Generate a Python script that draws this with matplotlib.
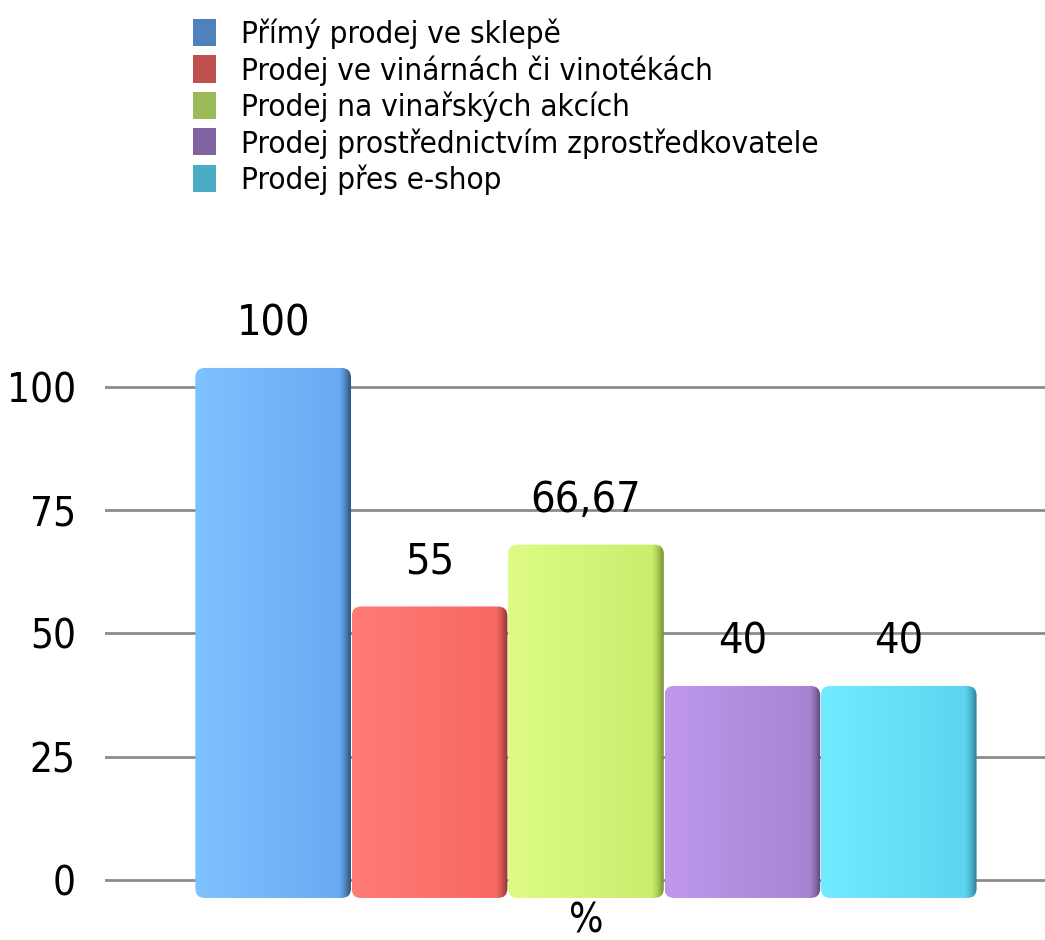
import matplotlib.pyplot as plt
import numpy as np
from matplotlib.patches import Patch, FancyBboxPatch
from matplotlib.colors import to_rgb

plt.rcParams['font.family'] = ['DejaVu Sans']
plt.rcParams['font.stretch'] = 'condensed'

kategorie = [
    'Přímý prodej ve sklepě',
    'Prodej ve vinárnách či vinotékách',
    'Prodej na vinařských akcích',
    'Prodej prostřednictvím zprostředkovatele',
    'Prodej přes e-shop',
]
hodnoty = [100, 55, 66.67, 40, 40]
popisky = ['100', '55', '66,67', '40', '40']
osa_y = [0, 25, 50, 75, 100]

# barvy v legendě a barvy sloupců (světlá levá strana, střed, tmavá hrana)
barvy_legendy = ['#4f81bd', '#c0504d', '#9bbb59', '#8064a2', '#4bacc6']
barvy_sloupcu = [
    ('#7ec2ff', '#68abf4', '#2f5178'),
    ('#ff7b75', '#f86965', '#8c3431'),
    ('#defc84', '#cbee6e', '#72902f'),
    ('#bf98ec', '#a885d3', '#5b4677'),
    ('#72ebff', '#5dd5ef', '#2b7f93'),
]

fig = plt.figure(figsize=(10.45, 9.4), dpi=100)
pozice = [0.1005, 0.0426, 0.8995, 0.6383]

# zadní osa s mřížkou a popisky osy y
ax_m = fig.add_axes(pozice)
ax_m.set_ylim(-4.06, 117.6)
ax_m.set_xlim(0, 1)
ax_m.set_yticks(osa_y)
ax_m.set_yticklabels([str(v) for v in osa_y])
ax_m.tick_params(axis='y', length=0, pad=21, labelsize=29)
ax_m.set_xticks([])
ax_m.grid(axis='y', color='#8c8c8c', linewidth=2)
for s in ax_m.spines.values():
    s.set_visible(False)

# přední osa se sloupci
ax = fig.add_axes(pozice)
ax.patch.set_visible(False)
x = np.arange(len(hodnoty))
sirka = 0.995
sloupce = ax.bar(x, hodnoty, width=sirka, color='none', edgecolor='none')

for sl, (svetla, stred, hrana) in zip(sloupce, barvy_sloupcu):
    x0, y0 = sl.get_x(), sl.get_y()
    w, h = sl.get_width(), sl.get_height()
    tvar = FancyBboxPatch((x0, y0), w, h,
                          boxstyle='round,pad=0,rounding_size=0.06',
                          mutation_aspect=29.5, facecolor='none',
                          edgecolor='none')
    ax.add_patch(tvar)
    t = np.linspace(0, 1, 200)
    c1, c2, c3 = (np.array(to_rgb(c)) for c in (svetla, stred, hrana))
    grad = np.where(t[:, None] < 0.92,
                    c1 + (c2 - c1) * (t[:, None] / 0.92),
                    c2 + (c3 - c2) * ((t[:, None] - 0.92) / 0.08) ** 1.5)
    img = ax.imshow(grad[None, :, :], extent=(x0, x0 + w, y0, y0 + h),
                    aspect='auto', interpolation='bilinear', zorder=2)
    img.set_clip_path(tvar)

for xi, v, txt in zip(x, hodnoty, popisky):
    ax.annotate(txt, (xi, v), xytext=(0, 17), textcoords='offset points',
                ha='center', va='bottom', fontsize=31)

ax.set_xlim(-1.075, 4.935)
ax.set_ylim(-0.377, 112.83)
ax.set_xticks([2])
ax.set_xticklabels(['%'])
ax.tick_params(axis='x', length=0, pad=1, labelsize=29)
ax.set_yticks([])
for s in ax.spines.values():
    s.set_visible(False)

ruce = [Patch(facecolor=c, edgecolor='none') for c in barvy_legendy]
fig.legend(ruce, kategorie, loc='upper left', bbox_to_anchor=(0.1847, 0.98),
           frameon=False, fontsize=22.5, borderpad=0, borderaxespad=0,
           handlelength=0.74, handleheight=0.96, handletextpad=0.8,
           labelspacing=0.19)

fig.savefig('out.png', dpi=100)
